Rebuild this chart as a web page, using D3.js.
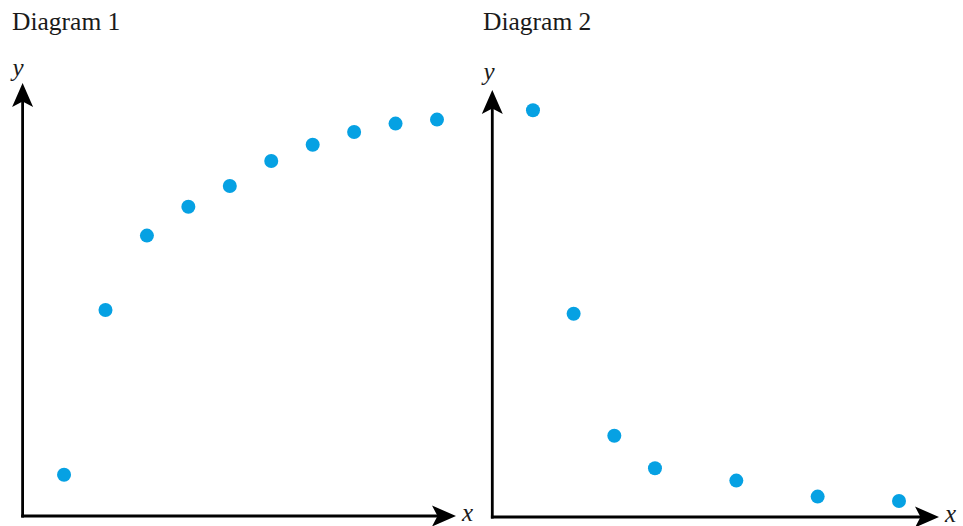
<!DOCTYPE html>
<html>
<head>
<meta charset="utf-8">
<script src="https://cdn.jsdelivr.net/npm/d3@7"></script>
<style>
  html, body { margin: 0; padding: 0; background: #fff; }
  svg { display: block; }
  text { font-family: "Liberation Serif", "DejaVu Serif", serif; fill: #1a1a1a; }
</style>
</head>
<body>
<script>
// ---- Data ----
const titles = ["Diagram 1", "Diagram 2"];
const axisLabels = ["x", "y"];
const d1X = [1, 2, 3, 4, 5, 6, 7, 8, 9, 10];
const d1Y = [1.03, 5.15, 7.01, 7.73, 8.25, 8.875, 9.28, 9.6, 9.81, 9.91];
const d2X = [1, 2, 3, 4, 6, 8, 10];
const d2Y = [10.17, 5.08, 2.03, 1.22, 0.91, 0.51, 0.4];

const W = 963, H = 526;
const svg = d3.select("body").append("svg").attr("width", W).attr("height", H);

const dotColor = "#06a1e3";

const panels = [
  { title: titles[0], xs: d1X, ys: d1Y, x0: 22.6, x10: 437, y0: 516, yTip: 83, xTip: 456, titleX: 12, yLabX: 18, yLabBase: 76, xLabX: 462, xLabBase: 521 },
  { title: titles[1], xs: d2X, ys: d2Y, x0: 492.3, x10: 899, y0: 517, yTip: 90, xTip: 939, titleX: 483, yLabX: 489, yLabBase: 80, xLabX: 945, xLabBase: 522 }
];

panels.forEach(p => {
  const x = d3.scaleLinear().domain([0, 10]).range([p.x0, p.x10]);
  const y = d3.scaleLinear().domain([0, 10]).range([p.y0, p.y0 - 400]);
  const g = svg.append("g");
  const ox = x(0), oy = y(0);

  // axes lines
  g.append("line").attr("x1", ox).attr("y1", oy + 1.4).attr("x2", ox).attr("y2", p.yTip + 18)
    .attr("stroke", "#000").attr("stroke-width", 2.8);
  g.append("line").attr("x1", ox - 1.4).attr("y1", oy).attr("x2", p.xTip - 18).attr("y2", oy)
    .attr("stroke", "#000").attr("stroke-width", 2.8);

  // arrowheads (stealth)
  const head = "M0,0 L-10.5,24 L0,18.5 L10.5,24 Z";
  g.append("path").attr("d", head).attr("transform", `translate(${ox},${p.yTip})`).attr("fill", "#000");
  g.append("path").attr("d", head).attr("transform", `translate(${p.xTip},${oy}) rotate(90)`).attr("fill", "#000");

  // title
  g.append("text").attr("x", p.titleX).attr("y", 30).attr("font-size", 25.5).text(p.title);
  // axis labels
  g.append("text").attr("x", p.yLabX).attr("y", p.yLabBase).attr("font-size", 25)
    .attr("font-style", "italic").attr("text-anchor", "middle").text(axisLabels[1]);
  g.append("text").attr("x", p.xLabX).attr("y", p.xLabBase).attr("font-size", 25)
    .attr("font-style", "italic").text(axisLabels[0]);

  // points
  const pts = p.xs.map((v, i) => ({ x: v, y: p.ys[i] }));
  g.selectAll("circle").data(pts).enter().append("circle")
    .attr("cx", d => x(d.x)).attr("cy", d => y(d.y))
    .attr("r", 7).attr("fill", dotColor);
});
</script>
</body>
</html>
